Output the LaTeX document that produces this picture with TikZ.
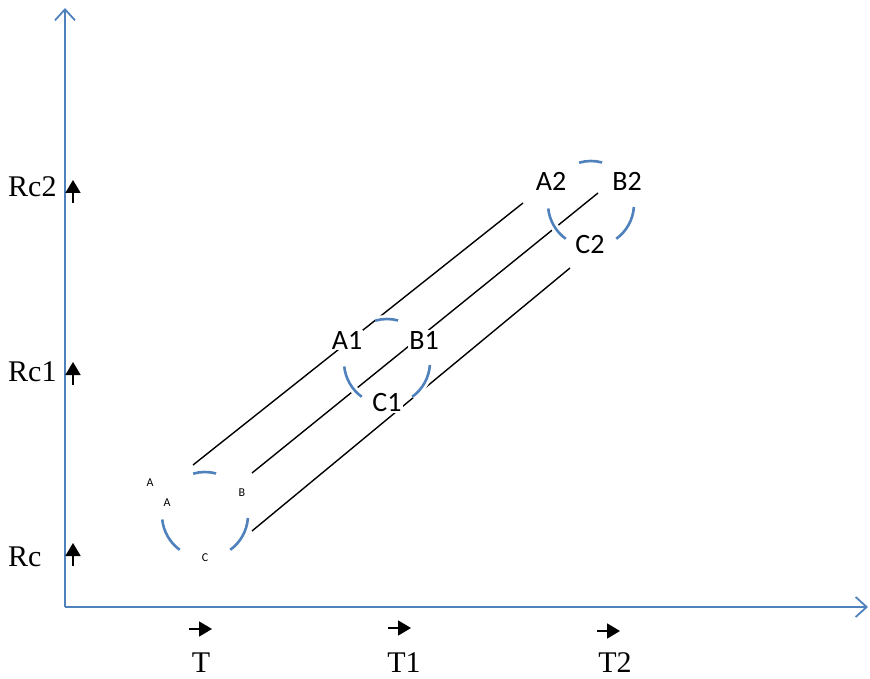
\documentclass[tikz,border=0pt]{standalone}
\usepackage{fontspec}
\setmainfont{Liberation Serif}
\newfontfamily\calibri{Carlito}
\usetikzlibrary{arrows.meta}
\definecolor{axisblue}{RGB}{79,129,189}

\begin{document}
\begin{tikzpicture}[x=1pt,y=1pt,>=Triangle,
  axis/.style={axisblue,line width=1.8pt,-{Straight Barb[length=11pt,width=20pt]}},
  tick/.style={line width=1.8pt,-{Triangle[length=13pt,width=15pt]}},
  ring/.style={axisblue,line width=2.6pt,preaction={draw=white,line width=8pt}},
  track/.style={line width=1.4pt},
  big/.style={font=\calibri\fontsize{28}{30}\selectfont,fill=white,inner sep=1pt},
  small/.style={font=\calibri\fontsize{12}{14}\selectfont,inner sep=1pt},
  axlabel/.style={font=\fontsize{30}{32}\selectfont,inner sep=0pt}]
  \useasboundingbox (0,0) rectangle (870,-679);
  % axes
  \coordinate (origin) at (65,-607);
  \coordinate (ytop) at (65,-8);
  \coordinate (xend) at (868,-607);
  \draw[axis] (origin) -- (ytop);
  \draw[axis] (origin) -- (xend);
  % marks on the axes
  \foreach \name/\txt/\ly/\ay in {rc/Rc/557/566,rc1/Rc1/372/385,rc2/Rc2/187/203} {
    \node[axlabel,anchor=west] (\name) at (8,-\ly) {\txt};
    \draw[tick] (73,-\ay) -- ++(0,23);
  }
  \foreach \name/\txt/\lx/\ax/\ay in {t/T/201/189/629,t1/T1/404/388/628,t2/T2/615/597/631} {
    \node[axlabel] (\name) at (\lx,-663) {\txt};
    \draw[tick] (\ax,-\ay) -- ++(23,0);
  }
  % three parallel tracks
  \coordinate (topS) at (193,-465);
  \coordinate (topE) at (523,-203);
  \coordinate (midS) at (252,-473);
  \coordinate (midE) at (598,-193);
  \coordinate (lowS) at (252,-531);
  \coordinate (lowE) at (570,-268);
  \draw[track] (topS) -- (topE);
  \draw[track] (midS) -- (midE);
  \draw[track] (lowS) -- (lowE);
  % broken rings
  \coordinate (ring0) at (205,-515);
  \coordinate (ring1) at (387,-362);
  \coordinate (ring2) at (591,-204);
  \foreach \r in {ring0,ring1,ring2}
    \foreach \s/\e in {75/106,186/234,306/356}
      \draw[ring] (\r) ++(\s:43) arc[start angle=\s,end angle=\e,radius=43];
  % labels
  \node[small] (Aout) at (150,-483) {A};
  \node[small] (A) at (167,-503) {A};
  \node[small] (B) at (242,-493) {B};
  \node[small] (C) at (205,-558) {C};
  \node[big] (A1) at (347,-340) {A1};
  \node[big] (B1) at (424,-340) {B1};
  \node[big] (C1) at (387,-403) {C1};
  \node[big] (A2) at (551,-181) {A2};
  \node[big] (B2) at (627,-181) {B2};
  \node[big] (C2) at (590,-245) {C2};
\end{tikzpicture}
\end{document}
